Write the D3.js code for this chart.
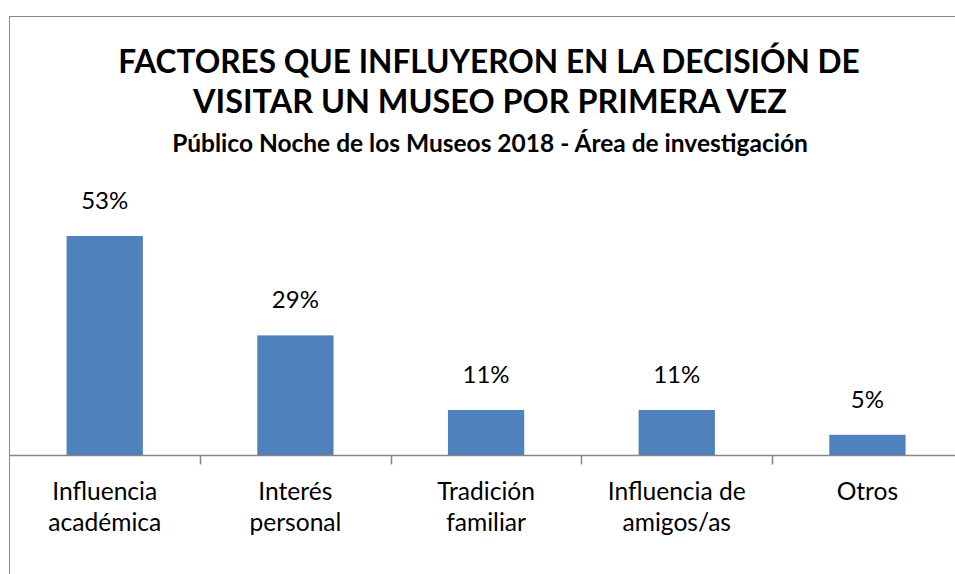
<!DOCTYPE html>
<html><head><meta charset="utf-8">
<script src="https://cdn.jsdelivr.net/npm/d3@7"></script>
<style>
html,body{margin:0;padding:0;background:#fff;overflow:hidden;}
svg{display:block;}
text{font-family:Lato,"Open Sans","Noto Sans",sans-serif;fill:#000;}
</style></head>
<body>
<svg id="chart" width="955" height="574"></svg>
<script>
const categories = [["Influencia","académica"],["Interés","personal"],["Tradición","familiar"],["Influencia de","amigos/as"],["Otros"]];
const values = [53, 29, 11, 11, 5];
const valueLabels = ["53%","29%","11%","11%","5%"];
const titleLines = ["FACTORES QUE INFLUYERON EN LA DECISIÓN DE","VISITAR UN MUSEO POR PRIMERA VEZ"];
const subtitle = "Público Noche de los Museos 2018 - Área de investigación";

const svg = d3.select("#chart");
const keys = categories.map((c,i)=>"c"+i);

// frame (extends beyond right/bottom edge as in reference)
svg.append("rect").attr("x",9.5).attr("y",16.5).attr("width",1000).attr("height",700)
  .attr("fill","#fff").attr("stroke","#868686").attr("stroke-width",1);

const x = d3.scaleBand().domain(keys).range([9.4, 962.75]).paddingInner(0.6).paddingOuter(0.3);
const y = d3.scaleLinear().domain([0,60]).range([455.5, 207]);

// bars
svg.append("g").selectAll("rect").data(values).join("rect")
  .attr("x",(d,i)=>x(keys[i])).attr("width",x.bandwidth())
  .attr("y",d=>y(d)).attr("height",d=>y(0)-y(d))
  .attr("fill","#4F81BD");

// axis
const axis = d3.axisBottom(x).tickSize(0).tickFormat("");
const ag = svg.append("g").attr("transform",`translate(0,${y(0)})`).call(axis);
ag.select(".domain").attr("stroke","#868686").attr("stroke-width",1.5).attr("d","M9,0H955");
// tick marks at band boundaries
const step = x.step();
const bounds = keys.slice(1).map(k=>x(k) - (step - x.bandwidth())/2);
ag.selectAll("line.tb").data(bounds).join("line").attr("class","tb")
  .attr("x1",d=>Math.round(d)+0.5).attr("x2",d=>Math.round(d)+0.5).attr("y1",0).attr("y2",9)
  .attr("stroke","#868686").attr("stroke-width",1.5);

// value labels
svg.append("g").selectAll("text").data(values).join("text")
  .attr("x",(d,i)=>x(keys[i])+x.bandwidth()/2)
  .attr("y",d=>y(d)-27)
  .attr("text-anchor","middle").attr("font-size",24)
  .text((d,i)=>valueLabels[i]);

// category labels
const cg = svg.append("g");
categories.forEach((lines,i)=>{
  const t = cg.append("text").attr("x",x(keys[i])+x.bandwidth()/2).attr("y",499.5)
    .attr("text-anchor","middle").attr("font-size",24.6);
  lines.forEach((l,j)=>t.append("tspan").attr("x",x(keys[i])+x.bandwidth()/2).attr("dy",j?31:0).text(l));
});

// titles, fitted to reference widths
function fit(sel, target){
  const w = sel.node().getComputedTextLength();
  const fs = +sel.attr("font-size");
  sel.attr("font-size", fs*target/w);
}
const t1 = svg.append("text").attr("x",489).attr("y",73).attr("text-anchor","middle")
  .attr("font-weight","bold").attr("font-size",30).text(titleLines[0]);
fit(t1, 742);
const t2 = svg.append("text").attr("x",490).attr("y",113).attr("text-anchor","middle")
  .attr("font-weight","bold").attr("font-size",30).text(titleLines[1]);
fit(t2, 594);
const st = svg.append("text").attr("x",490).attr("y",152).attr("text-anchor","middle")
  .attr("font-weight","bold").attr("font-size",20).text(subtitle);
fit(st, 636);
</script>
</body></html>
